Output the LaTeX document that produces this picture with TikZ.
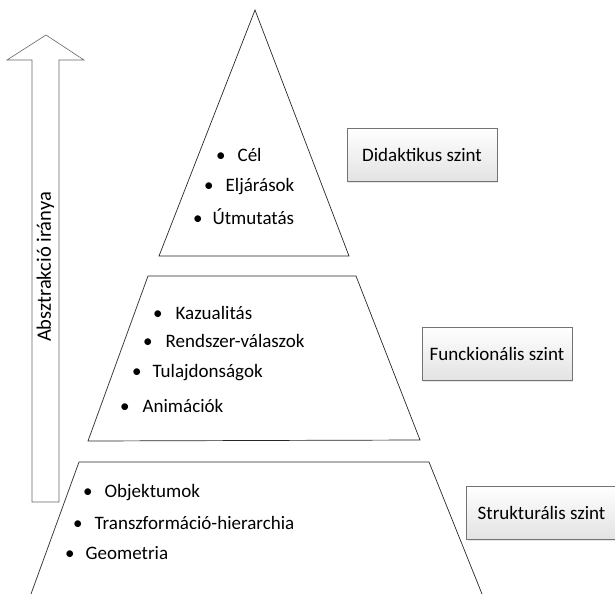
\documentclass[tikz,border=0pt]{standalone}
\usepackage{fontspec}
\setmainfont{Carlito}
\usetikzlibrary{shadows}
\begin{document}
\begin{tikzpicture}[x=1pt,y=-1pt,
  shape line/.style={draw=black!85,line width=0.7pt,line join=miter},
  item/.style={anchor=west,inner sep=0pt,font=\fontsize{19}{22}\selectfont},
  levelbox/.style={draw=gray!90!black,line width=0.6pt,top color=white,bottom color=gray!22,
    minimum width=150pt,minimum height=53pt,inner sep=0pt,font=\fontsize{19}{22}\selectfont,
    drop shadow={opacity=0.2,shadow xshift=1pt,shadow yshift=-1.5pt}},
  arrowshape/.style={draw=gray!80!black,line width=0.6pt,fill=white}]
\useasboundingbox (0,0) rectangle (615,594);
% arrow
\draw[arrowshape] (32,502) -- (32,60) -- (7,60) -- (46,35) -- (84,60) -- (59,60) -- (59,502) -- cycle;
\node[rotate=90,inner sep=0pt,font=\fontsize{20.5}{22}\selectfont] (arrtext) at (45.5,267) {Absztrakció iránya};
% triangle
\draw[shape line] (255,10) -- (349,256) -- (159,256) -- cycle;
% middle trapezoid
\draw[shape line] (148,276) -- (356,276) -- (420,440) -- (88,441) -- cycle;
% bottom trapezoid (open bottom)
\draw[shape line] (31,594) -- (79,462) -- (429,462) -- (482,594);
% items top
\node[item] (cel) at (216,155) {\textbullet\hspace{12pt}Cél};
\node[item] (elj) at (204,187) {\textbullet\hspace{12pt}Eljárások};
\node[item] (utm) at (193,217) {\textbullet\hspace{10pt}Útmutatás};
% items middle
\node[item] (kaz) at (153,313) {\textbullet\hspace{13pt}Kazualitás};
\node[item] (ren) at (143,341) {\textbullet\hspace{13pt}Rendszer-válaszok};
\node[item] (tul) at (132,373) {\textbullet\hspace{11pt}Tulajdonságok};
\node[item] (ani) at (120,406) {\textbullet\hspace{13pt}Animációk};
% items bottom
\node[item] (obj) at (83,493) {\textbullet\hspace{12pt}Objektumok};
\node[item] (tra) at (73,523) {\textbullet\hspace{12pt}Transzformáció-hierarchia};
\node[item] (geo) at (65,553) {\textbullet\hspace{11pt}Geometria};
% level boxes
\node[levelbox] (did) at (422,154.5) {Didaktikus szint};
\node[levelbox] (fun) at (497,353.5) {Funckionális szint};
\node[levelbox] (str) at (541.5,512.5) {Strukturális szint};
\end{tikzpicture}
\end{document}
